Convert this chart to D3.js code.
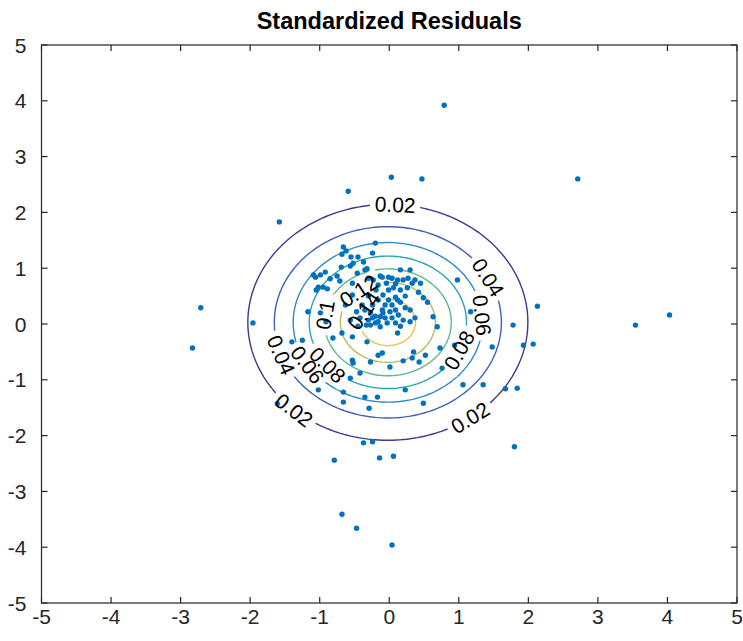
<!DOCTYPE html>
<html>
<head>
<meta charset="utf-8">
<script src="https://cdn.jsdelivr.net/npm/d3@7"></script>
<style>
  html, body { margin: 0; padding: 0; background: #fff; }
  svg { display: block; }
</style>
</head>
<body>
<svg id="chart" width="743" height="641"></svg>
<script>
// ---------- data ----------
const chartTitle = "Standardized Residuals";
const xTicks = [-5, -4, -3, -2, -1, 0, 1, 2, 3, 4, 5];
const yTicks = [-5, -4, -3, -2, -1, 0, 1, 2, 3, 4, 5];

// standardized residuals (x, y)
const resX = [
  0.79, 0.03, 0.47, -0.59, 2.71, -1.58, -2.71, -2.83, -1.96, 3.54, 4.03, 2.13, -1.61, 1.80, -0.79, -0.68, -0.47, 0.04, -0.37, -0.24, -0.14, 0.06, -0.66, -0.29, 0.49,
  -0.20, -0.66, -0.62, -0.68, -0.55, -0.45, -0.24, -0.52, -0.37, -0.32, -0.69, -0.56, -0.92, -1.06, -0.99, -0.75, -0.85, -1.02, -0.95, -0.89, -0.46, -0.71, -0.30, -0.23, -0.10, -0.01, 0.04, 0.12, -1.09, -1.05, -0.53, -0.35, -0.13,
  -1.17, -0.99, -0.91, -1.25, -1.40, -0.68, -0.53, -0.32, -0.27, -0.13,
  -0.27, -0.13, 0.01, 0.12, -0.20, -0.03, 0.09, 0.20, 0.27, 0.33, 0.37, 0.06, 0.16, 0.26, 0.09, 0.49, 0.55, 0.30, 0.16, 0.37, 0.20, 0.13, 0.45, 0.63, -0.24, -0.16, -0.06, -0.35, -0.42, -0.09, -0.01, -0.19, -0.30, 0.04, 0.23, -0.10, -0.20, -0.30, -0.06, 0.04, -0.39, -0.47, -0.56, -0.63, -0.53, 0.16, 0.30, 0.42, -0.04,
  -0.24, -0.16, -0.09, 0.09, -0.01, -0.33, -0.45, 0.16, 0.30, 0.23, 0.09, -0.16,
  0.98, 1.17, 0.69, 0.12, 0.35, 0.33, 0.20, 0.43, 0.52, 0.73, 0.94, 0.76, 0.23, 1.48, 1.06, 1.35, 1.67, 1.84, 1.78, 1.93, 2.07,
  -0.16, -0.10, -0.53, -0.52, -0.27, 0.01, -0.56, -0.42, -1.02, -0.66, -0.17, -0.35, -0.81
];
const resY = [
  3.92, 2.63, 2.60, 2.38, 2.60, 1.83, 0.29, -0.43, 0.02, -0.02, 0.16, 0.32, -1.43, -2.20, -2.44, -3.41, -3.66, -3.96, -2.13, -2.11, -2.40, -2.37, -1.40, -1.51, -1.42,
  1.45, 1.38, 1.31, 1.25, 1.20, 1.20, 1.27, 1.09, 1.11, 0.99, 1.02, 1.04, 0.93, 0.84, 0.88, 0.86, 0.81, 0.66, 0.66, 0.63, 0.91, 0.77, 0.82, 0.79, 0.84, 0.84, 0.82, 0.79, 0.88, 0.61, 0.73, 0.97, 0.86,
  0.22, 0.20, 0.04, -0.29, -0.32, -0.16, -0.23, -0.32, -0.02, -0.05,
  0.20, 0.13, 0.22, 0.43, 0.02, 0.02, 0.02, 0.79, 0.82, 0.73, 0.79, 0.65, 0.61, 0.65, 0.48, 0.47, 0.39, 0.25, 0.39, 0.11, 0.07, 0.16, 0.73, 0.13, 0.34, 0.43, 0.34, 0.25, 0.11, 0.52, 0.61, 0.61, 0.50, 0.34, 0.29, 0.25, 0.14, 0.07, 0.11, 0.11, 0.34, 0.22, 0.07, 0.34, 0.52, 0.97, 0.97, 0.57, 0.73,
  0.11, 0.04, 0.20, 0.25, 0.43, -0.02, -0.04, -0.04, 0.04, 0.50, 0.72, 0.70,
  0.79, 0.22, -0.05, -0.16, -0.50, -0.61, -0.66, -0.68, -0.56, -0.43, -0.38, -0.79, -1.18, -0.41, -1.09, -1.09, -1.16, -1.15, -0.02, -0.38, -0.36,
  -0.56, -0.52, -0.65, -0.70, -0.68, -0.77, -0.97, -0.88, -1.18, -1.22, -1.31, -1.31, -0.25
];

// fitted bivariate normal (mean, std dev) used for the density contours
const fitMean = [-0.02, 0.03];
const fitStd = [1.0, 1.05];
const contourLevels = [0.02, 0.04, 0.06, 0.08, 0.1, 0.12, 0.14];
const levelColors = ["#3b3a8e", "#3f5fb5", "#2f8ac6", "#2aa5ae", "#5cb98a", "#b5bc5c", "#edc24a"];
// inline contour labels: level and position angle (deg) along the contour
const labelLevels = [0.02, 0.02, 0.02, 0.04, 0.04, 0.06, 0.06, 0.08, 0.08, 0.1, 0.12, 0.14];
const labelAngles = [87, 228, -54, 28, 200, 5, 212, -25, 220, 172, 128, 150];

// ---------- layout ----------
const svg = d3.select("#chart");
const pLeft = 41.5, pRight = 737, pTop = 45, pBottom = 603;
const x = d3.scaleLinear().domain([-5, 5]).range([pLeft, pRight]);
const y = d3.scaleLinear().domain([-5, 5]).range([pBottom, pTop]);
const font = "'Liberation Sans', Arial, Helvetica, sans-serif";
const axisColor = "#262626";

// ---------- density grid & contours ----------
const step = 0.05;
const n = Math.round(10 / step) + 1;
const norm = 1 / (2 * Math.PI * fitStd[0] * fitStd[1]);
const pdf = (px, py) => {
  const zx = (px - fitMean[0]) / fitStd[0], zy = (py - fitMean[1]) / fitStd[1];
  return norm * Math.exp(-0.5 * (zx * zx + zy * zy));
};
const grid = new Array(n * n);
for (let j = 0; j < n; j++) {
  for (let i = 0; i < n; i++) {
    grid[j * n + i] = pdf(-5 + i * step, -5 + j * step);
  }
}
const contours = d3.contours().size([n, n]).thresholds(contourLevels)(grid);
const proj = d3.geoTransform({
  point(gx, gy) {
    this.stream.point(x(-5 + (gx - 0.5) * step), y(-5 + (gy - 0.5) * step));
  }
});
const path = d3.geoPath(proj);

// label geometry
const labelFmt = v => String(v);
const labelInfo = labelLevels.map((lv, k) => {
  const r = Math.sqrt(-2 * Math.log(lv / norm));
  const at = t => [x(fitMean[0] + r * fitStd[0] * Math.cos(t)), y(fitMean[1] + r * fitStd[1] * Math.sin(t))];
  const t = labelAngles[k] * Math.PI / 180;
  const p = at(t), p1 = at(t - 0.01), p2 = at(t + 0.01);
  let ang = Math.atan2(p2[1] - p1[1], p2[0] - p1[0]) * 180 / Math.PI;
  if (ang > 90) ang -= 180;
  if (ang <= -90) ang += 180;
  return { level: lv, px: p[0], py: p[1], ang };
});

const labelSize = 21;
const defs = svg.append("defs");
const mask = defs.append("mask").attr("id", "labelGaps").attr("maskUnits", "userSpaceOnUse")
  .attr("x", 0).attr("y", 0).attr("width", 743).attr("height", 641);
mask.append("rect").attr("x", 0).attr("y", 0).attr("width", 743).attr("height", 641).attr("fill", "#fff");
labelInfo.forEach(d => {
  const w = labelFmt(d.level).length * labelSize * 0.5 + 8;
  mask.append("rect")
    .attr("x", -w / 2).attr("y", -labelSize * 0.5).attr("width", w).attr("height", labelSize)
    .attr("transform", `translate(${d.px},${d.py}) rotate(${d.ang})`)
    .attr("fill", "#000");
});

svg.append("g").attr("mask", "url(#labelGaps)")
  .selectAll("path").data(contours).join("path")
  .attr("d", path)
  .attr("fill", "none")
  .attr("stroke", d => levelColors[contourLevels.indexOf(d.value)])
  .attr("stroke-width", 1.4);

// scatter points
svg.append("g").selectAll("circle").data(resX.map((v, i) => [v, resY[i]])).join("circle")
  .attr("cx", d => x(d[0])).attr("cy", d => y(d[1])).attr("r", 2.7)
  .attr("fill", "#0072BD");

// contour labels
svg.append("g").selectAll("text").data(labelInfo).join("text")
  .attr("transform", d => `translate(${d.px},${d.py}) rotate(${d.ang})`)
  .attr("text-anchor", "middle").attr("dy", "0.36em")
  .attr("font-family", font).attr("font-size", labelSize)
  .attr("fill", "#000")
  .text(d => labelFmt(d.level));

// ---------- axes (box with inward ticks) ----------
const axG = svg.append("g").attr("stroke", axisColor).attr("stroke-width", 1.2).attr("fill", "none");
axG.append("rect").attr("x", pLeft).attr("y", pTop).attr("width", pRight - pLeft).attr("height", pBottom - pTop);
const tl = 6;
xTicks.forEach(t => {
  axG.append("line").attr("x1", x(t)).attr("x2", x(t)).attr("y1", pBottom).attr("y2", pBottom - tl);
  axG.append("line").attr("x1", x(t)).attr("x2", x(t)).attr("y1", pTop).attr("y2", pTop + tl);
});
yTicks.forEach(t => {
  axG.append("line").attr("y1", y(t)).attr("y2", y(t)).attr("x1", pLeft).attr("x2", pLeft + tl);
  axG.append("line").attr("y1", y(t)).attr("y2", y(t)).attr("x1", pRight).attr("x2", pRight - tl);
});

const tickSize = 21;
svg.append("g").selectAll("text").data(xTicks).join("text")
  .attr("x", d => x(d)).attr("y", pBottom + 21)
  .attr("text-anchor", "middle")
  .attr("font-family", font).attr("font-size", tickSize).attr("fill", axisColor)
  .text(d => d);
svg.append("g").selectAll("text").data(yTicks).join("text")
  .attr("x", pLeft - 15).attr("y", d => y(d)).attr("dy", "0.36em")
  .attr("text-anchor", "end")
  .attr("font-family", font).attr("font-size", tickSize).attr("fill", axisColor)
  .text(d => d);

svg.append("text")
  .attr("x", (pLeft + pRight) / 2).attr("y", 29)
  .attr("text-anchor", "middle")
  .attr("font-family", font).attr("font-size", 23.5).attr("font-weight", "bold").attr("fill", "#000")
  .text(chartTitle);
</script>
</body>
</html>
